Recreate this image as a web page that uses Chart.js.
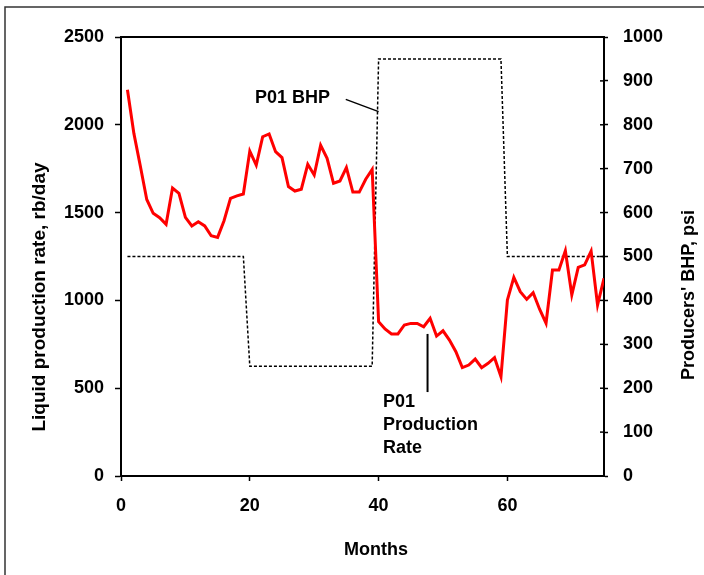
<!DOCTYPE html>
<html><head><meta charset="utf-8">
<script src="https://cdn.jsdelivr.net/npm/chart.js@4.4.0/dist/chart.umd.min.js"></script>
<style>html,body{margin:0;padding:0;background:#fff;} canvas{display:block;}</style>
</head><body>
<canvas id="c" width="704" height="575"></canvas>
<script>
// ---- data ----
const months = [1,2,3,4,5,6,7,8,9,10,11,12,13,14,15,16,17,18,19,20,21,22,23,24,25,26,27,28,29,30,31,32,33,34,35,36,37,38,39,40,41,42,43,44,45,46,47,48,49,50,51,52,53,54,55,56,57,58,59,60,61,62,63,64,65,66,67,68,69,70,71,72,73,74,75];
const liquidRate = [2200,1951,1765,1575,1496,1471,1433,1640,1610,1473,1424,1448,1424,1368,1359,1454,1581,1595,1606,1850,1771,1932,1948,1847,1813,1648,1623,1633,1775,1714,1883,1809,1667,1680,1756,1617,1617,1690,1746,879,837,809,809,860,869,869,850,898,797,827,774,708,617,632,666,617,642,674,566,1002,1131,1050,1006,1044,950,870,1173,1173,1283,1031,1188,1202,1281,974,1126];
const producerBHP = [500,500,500,500,500,500,500,500,500,500,500,500,500,500,500,500,500,500,500,250,250,250,250,250,250,250,250,250,250,250,250,250,250,250,250,250,250,250,250,950,950,950,950,950,950,950,950,950,950,950,950,950,950,950,950,950,950,950,950,500,500,500,500,500,500,500,500,500,500,500,500,500,500,500,500];
const monthTicks = [0,20,40,60];
const rateTicks = [0,500,1000,1500,2000,2500];
const bhpTicks = [0,100,200,300,400,500,600,700,800,900,1000];
const xTitle = 'Months';
const yLeftTitle = 'Liquid production rate, rb/day';
const yRightTitle = "Producers' BHP, psi";
const bhpLabel = 'P01 BHP';
const rateLabel = ['P01', 'Production', 'Rate'];

const FONT = "'Liberation Sans', Arial, sans-serif";
Chart.defaults.font.family = FONT;
Chart.defaults.color = '#000';

const decor = {
  id: 'decor',
  afterDraw(chart) {
    const ctx = chart.ctx, a = chart.chartArea, s = chart.scales;
    ctx.save();
    // outer frame
    ctx.strokeStyle = '#333'; ctx.lineWidth = 1.5;
    ctx.strokeRect(5, 7, 800, 800);
    // top border of plot
    ctx.strokeStyle = '#000'; ctx.lineWidth = 2;
    ctx.beginPath(); ctx.moveTo(a.left - 1, a.top); ctx.lineTo(a.right + 1, a.top); ctx.stroke();
    // inward ticks on right axis
    ctx.lineWidth = 1.5;
    s.y2.ticks.forEach(t => {
      const y = s.y2.getPixelForValue(t.value);
      ctx.beginPath(); ctx.moveTo(a.right - 4, y); ctx.lineTo(a.right, y); ctx.stroke();
    });
    // axis titles
    ctx.fillStyle = '#000';
    ctx.font = 'bold 18px ' + FONT;
    ctx.textAlign = 'center'; ctx.textBaseline = 'middle';
    ctx.fillText(xTitle, 376, 550);
    ctx.save(); ctx.translate(40, 297); ctx.rotate(-Math.PI/2);
    ctx.font = 'bold 19px ' + FONT; ctx.fillText(yLeftTitle, 0, 0); ctx.restore();
    ctx.save(); ctx.translate(689, 295); ctx.rotate(-Math.PI/2);
    ctx.fillText(yRightTitle, 0, 0); ctx.restore();
    // annotation: P01 BHP
    ctx.textAlign = 'left'; ctx.textBaseline = 'alphabetic';
    ctx.fillText(bhpLabel, s.x.getPixelForValue(20.8), s.y2.getPixelForValue(850));
    ctx.lineWidth = 1.5;
    ctx.beginPath();
    ctx.moveTo(s.x.getPixelForValue(34.9), s.y2.getPixelForValue(858));
    ctx.lineTo(s.x.getPixelForValue(40.0), s.y2.getPixelForValue(830));
    ctx.stroke();
    // annotation: P01 Production Rate
    ctx.lineWidth = 2;
    const lx = s.x.getPixelForValue(47.6);
    ctx.beginPath(); ctx.moveTo(lx, s.y.getPixelForValue(809)); ctx.lineTo(lx, s.y.getPixelForValue(478)); ctx.stroke();
    const tx = s.x.getPixelForValue(40.7);
    let ty = s.y.getPixelForValue(393);
    rateLabel.forEach((line, i) => ctx.fillText(line, tx, ty + i * 23));
    ctx.restore();
  }
};

const tickFont = { size: 18, weight: 'bold', family: FONT };
const plain = v => String(v);

new Chart(document.getElementById('c'), {
  type: 'line',
  data: {
    datasets: [
      {
        label: 'P01 Production Rate',
        data: months.map((m, i) => ({ x: m, y: liquidRate[i] })),
        yAxisID: 'y', borderColor: '#ff0000', borderWidth: 3,
        pointRadius: 0, tension: 0, fill: false
      },
      {
        label: 'P01 BHP',
        data: months.map((m, i) => ({ x: m, y: producerBHP[i] })),
        yAxisID: 'y2', borderColor: '#000', borderWidth: 1.5, borderDash: [3, 2],
        pointRadius: 0, tension: 0, fill: false
      }
    ]
  },
  options: {
    responsive: false, animation: false, devicePixelRatio: 1,
    layout: { padding: { top: 37, left: 0, right: 0, bottom: 0 } },
    plugins: { legend: { display: false }, tooltip: { enabled: false } },
    scales: {
      x: {
        type: 'linear', position: 'bottom', min: 0, max: 75,
        afterBuildTicks: sc => { sc.ticks = monthTicks.map(v => ({ value: v })); },
        afterFit: sc => { sc.height = 99; },
        ticks: { font: tickFont, padding: 14, maxRotation: 0, color: '#000', callback: plain },
        grid: { drawOnChartArea: false, tickLength: 5, tickWidth: 1.5, tickColor: '#000' },
        border: { color: '#000', width: 2 },
        title: { display: false }
      },
      y: {
        type: 'linear', position: 'left', min: 0, max: 2500,
        afterBuildTicks: sc => { sc.ticks = rateTicks.map(v => ({ value: v })); },
        afterFit: sc => { sc.width = 121; },
        ticks: { font: tickFont, padding: 11, color: '#000', callback: plain },
        grid: { drawOnChartArea: false, tickLength: 6, tickWidth: 1.5, tickColor: '#000' },
        border: { color: '#000', width: 2 },
        title: { display: false }
      },
      y2: {
        type: 'linear', position: 'right', min: 0, max: 1000,
        afterBuildTicks: sc => { sc.ticks = bhpTicks.map(v => ({ value: v })); },
        afterFit: sc => { sc.width = 100; },
        ticks: { font: tickFont, padding: 15, color: '#000', callback: plain },
        grid: { drawOnChartArea: false, tickLength: 4, tickWidth: 1.5, tickColor: '#000' },
        border: { color: '#000', width: 2 },
        title: { display: false }
      }
    }
  },
  plugins: [decor]
});
</script>
</body></html>
